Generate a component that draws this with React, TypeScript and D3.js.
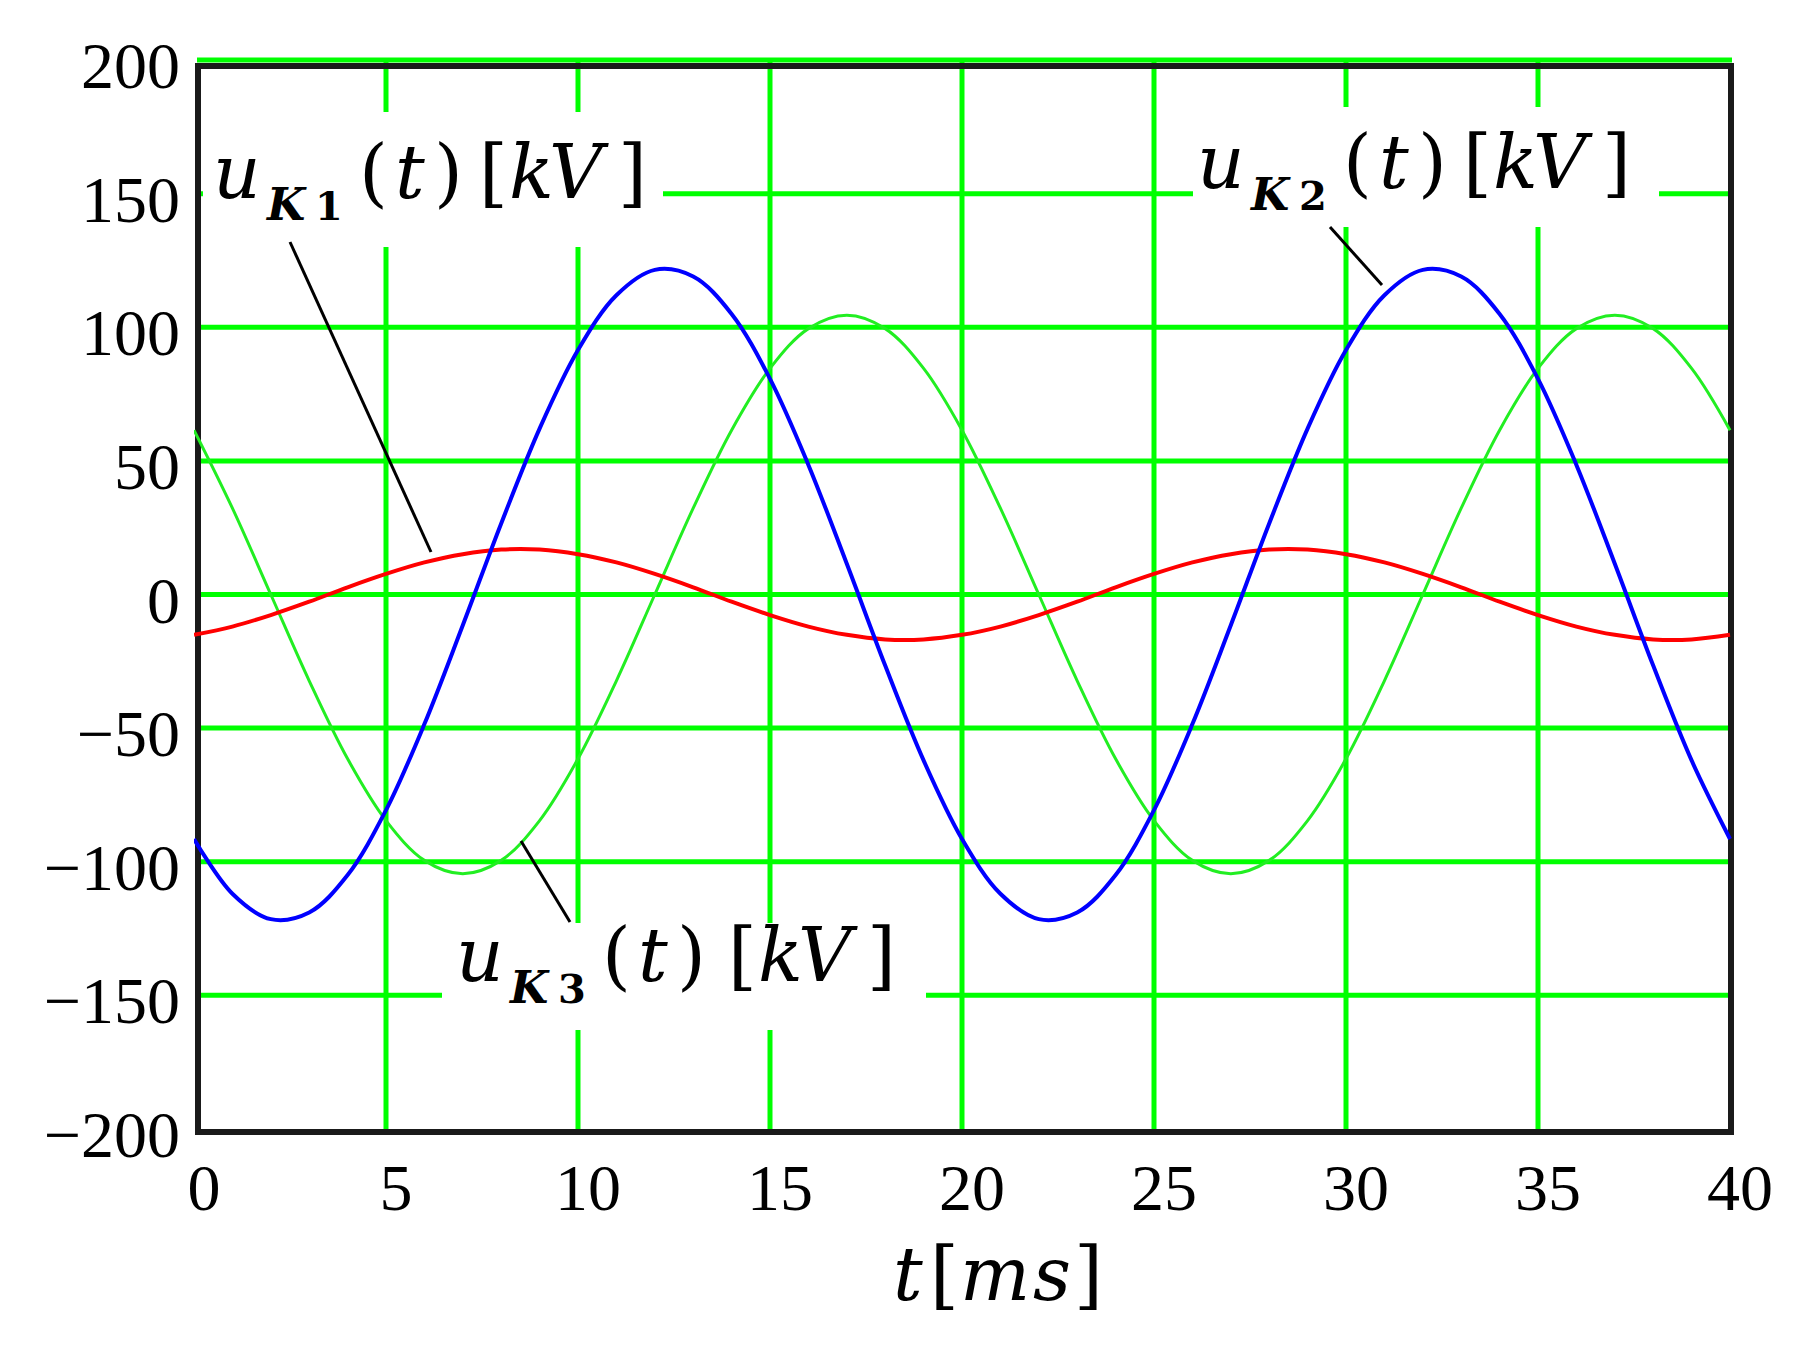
import React from "react";
import * as d3 from "d3";

const tMs = [0,1,2,3,4,5,6,7,8,9,10,11,12,13,14,15,16,17,18,19,20,21,22,23,24,25,26,27,28,29,30,31,32,33,34,35,36,37,38,39,40];
const uK1 = [-15.1,-12,-7.7,-2.7,2.7,7.7,12,15.1,16.8,16.8,15.1,12,7.7,2.7,-2.7,-7.7,-12,-15.1,-16.8,-16.8,
  -15.1,-12,-7.7,-2.7,2.7,7.7,12,15.1,16.8,16.8,15.1,12,7.7,2.7,-2.7,-7.7,-12,-15.1,-16.8,-16.8,-15.1];
const uK2 = [-91.5,-112,-121.5,-119,-105,-80.7,-48.5,-11.5,26.6,62.1,91.5,112,121.5,119,105,80.7,48.5,11.5,-26.6,-62.1,
  -91.5,-112,-121.5,-119,-105,-80.7,-48.5,-11.5,26.6,62.1,91.5,112,121.5,119,105,80.7,48.5,11.5,-26.6,-62.1,-91.5];
const uK3 = [61.5,32.3,0,-32.3,-61.5,-84.6,-99.5,-104.5,-99.5,-84.6,-61.5,-32.3,0,32.3,61.5,84.6,99.5,104.5,99.5,84.6,
  61.5,32.3,0,-32.3,-61.5,-84.6,-99.5,-104.5,-99.5,-84.6,-61.5,-32.3,0,32.3,61.5,84.6,99.5,104.5,99.5,84.6,61.5];
const xTicks = [0,5,10,15,20,25,30,35,40];
const yTicks = [-200,-150,-100,-50,0,50,100,150,200];
const seriesNames = ["K1","K2","K3"];

const W = 1803, H = 1346;
const FONT = "'Liberation Serif', 'Times New Roman', serif";
const LFONT = "'DejaVu Serif', serif";
const GREEN = "#00ff00";

// glyph offsets (relative to start of "u") for the formula labels
const glyphs = [
  { s: "(", dx: 146, it: false },
  { s: "t", dx: 182, it: true },
  { s: ")", dx: 221, it: false },
  { s: "[", dx: 266, it: false },
  { s: "k", dx: 296, it: true },
  { s: "V", dx: 336, it: true },
  { s: "]", dx: 405, it: false },
];

function Formula({ x, yb, sub, gap = 0 }: { x: number; yb: number; sub: string; gap?: number }) {
  return (
    <text fontFamily={LFONT} fill="#000" fontSize={74}>
      <tspan x={x} y={yb} fontStyle="italic">u</tspan>
      <tspan x={x + 54} y={yb + 22} fontSize={44} fontStyle="italic" fontWeight="bold">{sub[0]}</tspan>
      <tspan x={x + 102} y={yb + 22} fontSize={40} fontWeight="bold">{sub[1]}</tspan>
      {glyphs.map((g, i) => (
        <tspan key={i} x={x + g.dx + (i >= 3 ? gap : 0)} y={yb} fontStyle={g.it ? "italic" : "normal"}>{g.s}</tspan>
      ))}
    </text>
  );
}

export default function App() {
  const x = d3.scaleLinear().domain([0, 40]).range([194, 1730]);
  const y = d3.scaleLinear().domain([-200, 200]).range([1128.9, 60.1]);
  const mk = (vals: number[]) =>
    d3.line<number>().x((_, i) => x(tMs[i])).y((v) => y(v)).curve(d3.curveCatmullRom)(vals) || "";

  const left = 198, right = 1731, top = 66, bottom = 1132;

  return (
    <svg width={W} height={H} style={{ position: "absolute", left: 0, top: 0, background: "#fff" }}>
      <rect x={0} y={0} width={W} height={H} fill="#fff" />
      <defs>
        <clipPath id="plotclip">
          <rect x={left - 4} y={top - 8} width={right - left + 8} height={bottom - top + 8} />
        </clipPath>
      </defs>
      {/* grid */}
      {xTicks.filter((t) => t > 0 && t < 40).map((t) => (
        <line key={"gx" + t} x1={x(t)} x2={x(t)} y1={y(200)} y2={bottom} stroke={GREEN} strokeWidth={5} />
      ))}
      {yTicks.filter((v) => v > -200 && v < 200).map((v) => (
        <line key={"gy" + v} x1={left} x2={right} y1={y(v)} y2={y(v)} stroke={GREEN} strokeWidth={5} />
      ))}
      {/* frame */}
      <path d={`M${left},${top} L${left},${bottom} L${right},${bottom} L${right},${top} Z`} fill="none" stroke="#1a1a1a" strokeWidth={6} />
      <line x1={left - 1} x2={right + 1} y1={y(200)} y2={y(200)} stroke={GREEN} strokeWidth={5} />

      {/* label backgrounds */}
      <rect x={203} y={112} width={460} height={135} fill="#fff" />
      <rect x={1193} y={107} width={466} height={120} fill="#fff" />
      <rect x={442} y={923} width={484} height={107} fill="#fff" />

      {/* curves */}
      <g clipPath="url(#plotclip)" fill="none" strokeLinejoin="round">
        <path d={mk(uK3)} stroke="#22ee22" strokeWidth={3} />
        <path d={mk(uK1)} stroke="#ff0000" strokeWidth={4} />
        <path d={mk(uK2)} stroke="#0000ff" strokeWidth={4} />
      </g>

      {/* leaders */}
      <line x1={290} y1={242} x2={431} y2={552} stroke="#000" strokeWidth={3} />
      <line x1={1330} y1={227} x2={1382} y2={285} stroke="#000" strokeWidth={3} />
      <line x1={521} y1={841} x2={570} y2={922} stroke="#000" strokeWidth={3} />

      {/* labels */}
      <Formula x={213} yb={198} sub={seriesNames[0]} />
      <Formula x={1197} yb={188} sub={seriesNames[1]} />
      <Formula x={456} yb={981} sub={seriesNames[2]} gap={6} />

      {/* y tick labels */}
      {yTicks.map((v) => (
        <text key={"yl" + v} x={180} y={y(v) + 28} fontFamily={FONT} fontSize={66} textAnchor="end" fill="#000">
          {v < 0 ? "\u2212" + Math.abs(v) : String(v)}
        </text>
      ))}
      {/* x tick labels */}
      {xTicks.map((t) => (
        <text key={"xl" + t} x={x(t) + 10} y={1210} fontFamily={FONT} fontSize={66} textAnchor="middle" fill="#000">
          {String(t)}
        </text>
      ))}
      {/* x title */}
      <text fontFamily={LFONT} fontSize={74} fill="#000">
        <tspan x={893} y={1300} fontStyle="italic">t</tspan>
        <tspan x={930} y={1300}>[</tspan>
        <tspan x={960} y={1300} fontStyle="italic">m</tspan>
        <tspan x={1033} y={1300} fontStyle="italic">s</tspan>
        <tspan x={1074} y={1300}>]</tspan>
      </text>
    </svg>
  );
}
